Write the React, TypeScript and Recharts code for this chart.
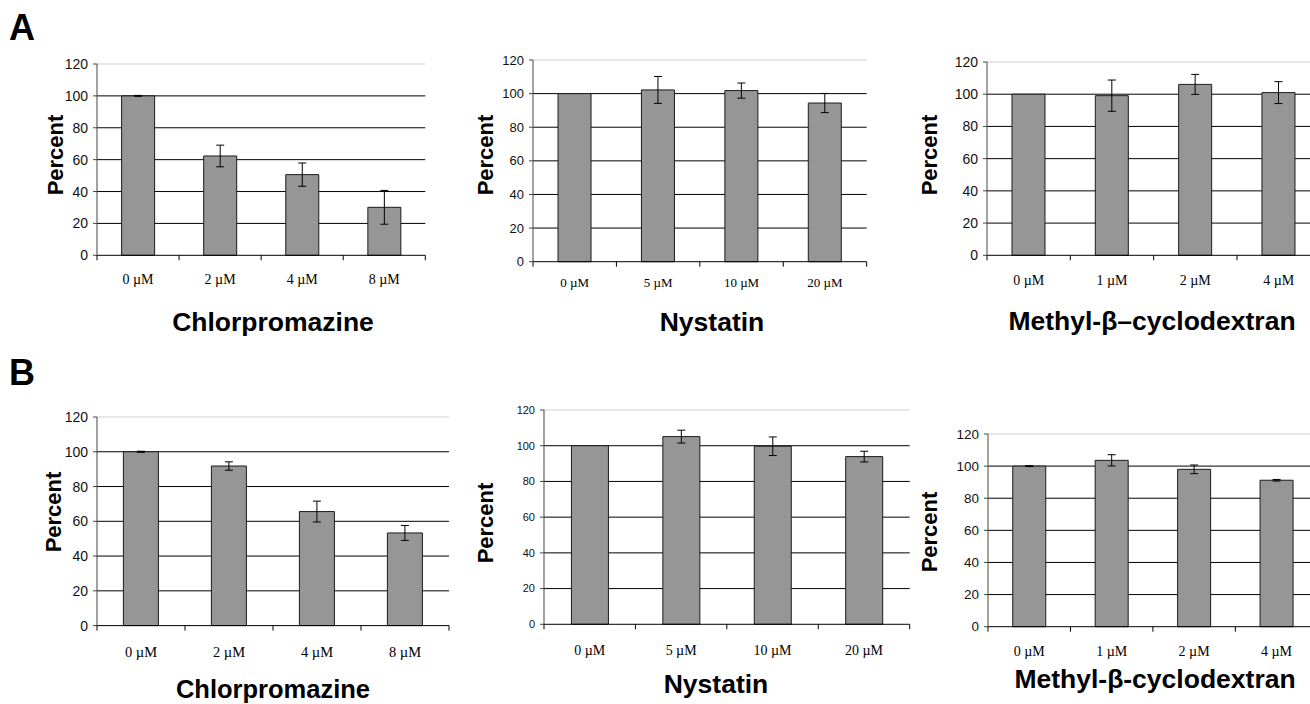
import { BarChart, Bar, XAxis, YAxis, CartesianGrid, ReferenceLine, ErrorBar } from 'recharts';

const chlorCats = ['0 µM', '2 µM', '4 µM', '8 µM'];
const nystCats = ['0 µM', '5 µM', '10 µM', '20 µM'];
const mbcdCats = ['0 µM', '1 µM', '2 µM', '4 µM'];

const yTicks = [0, 20, 40, 60, 80, 100, 120];
const gridValues = [20, 40, 60, 80, 100];

// panel A
const aChlorValues = [100, 62.3, 50.6, 30.1];
const aChlorErr = [0.3, 6.8, 7.3, 10.6];
const aNystValues = [100, 102.2, 101.8, 94.4];
const aNystErr = [0, 8, 4.5, 5.7];
const aMbcdValues = [100, 99.1, 106.1, 101];
const aMbcdErr = [0, 9.7, 6.2, 6.8];

// panel B
const bChlorValues = [100, 91.8, 65.6, 53.3];
const bChlorErr = [0.3, 2.4, 6, 4.3];
const bNystValues = [100, 105.1, 99.7, 93.9];
const bNystErr = [0, 3.6, 5.2, 3];
const bMbcdValues = [100, 103.6, 98, 91.2];
const bMbcdErr = [0.3, 3.5, 2.7, 0.5];

interface Layout {
    left: number;
    top: number;
    plotW: number;
    plotH: number;
    yFont: number;
    xFont: number;
    labelOffset: number;
}

const SANS = '"Liberation Sans", Arial, sans-serif';
const SERIF = '"Liberation Serif", "Times New Roman", serif';

const CatTick = (props: any) => {
    const { x, y, payload, index, band, font, offset, count } = props;
    const half = band / 2;
    return (
        <g>
            <line x1={x - half} y1={y} x2={x - half} y2={y + 5} stroke="#000" />
            {index === count - 1 && (
                <line x1={x + half} y1={y} x2={x + half} y2={y + 5} stroke="#000" />
            )}
            <text
                x={x}
                y={y + offset}
                textAnchor="middle"
                dominantBaseline="central"
                fontFamily={SERIF}
                fontSize={font}
                fill="#000"
            >
                {payload.value}
            </text>
        </g>
    );
};

function Panel({ cfg, cats, values, errs }: {
    cfg: Layout;
    cats: string[];
    values: number[];
    errs: number[];
}) {
    const data = cats.map((c, i) => ({ name: c, value: values[i], err: errs[i] }));
    const ml = 60;
    const mt = 10;
    const mb = 40;
    const band = cfg.plotW / cats.length;
    return (
        <div style={{ position: 'absolute', left: cfg.left - ml, top: cfg.top - mt }}>
            <BarChart
                width={cfg.plotW + ml + 2}
                height={cfg.plotH + mt + mb}
                data={data}
                margin={{ top: mt, right: 2, left: 0, bottom: 0 }}
                barCategoryGap="30%"
            >
                <CartesianGrid vertical={false} horizontalValues={gridValues} stroke="#000" />
                <ReferenceLine y={120} stroke="#d0d0d0" />
                <XAxis
                    dataKey="name"
                    height={mb}
                    interval={0}
                    tickSize={0}
                    tickMargin={0}
                    tickLine={false}
                    axisLine={{ stroke: '#000' }}
                    tick={(p: any) => (
                        <CatTick {...p} band={band} font={cfg.xFont} offset={cfg.labelOffset} count={cats.length} />
                    )}
                />
                <YAxis
                    width={ml}
                    domain={[0, 120]}
                    ticks={yTicks}
                    interval={0}
                    tickSize={4}
                    tickMargin={5}
                    axisLine={{ stroke: '#444' }}
                    tickLine={{ stroke: '#444' }}
                    tick={{ fontSize: cfg.yFont, fill: '#111', fontFamily: SANS }}
                />
                <Bar dataKey="value" fill="#969696" stroke="#1a1a1a" strokeWidth={1} isAnimationActive={false}>
                    <ErrorBar dataKey="err" direction="y" width={4} stroke="#000" strokeWidth={1} />
                </Bar>
            </BarChart>
        </div>
    );
}

const layouts: Record<string, Layout> = {
    aChlor: { left: 96.7, top: 64, plotW: 328.3, plotH: 191.3, yFont: 14, xFont: 14, labelOffset: 24 },
    aNyst: { left: 533.3, top: 60, plotW: 333.7, plotH: 201.7, yFont: 13, xFont: 13, labelOffset: 21 },
    aMbcd: { left: 986.7, top: 61.7, plotW: 333.3, plotH: 193.3, yFont: 14, xFont: 14, labelOffset: 25 },
    bChlor: { left: 96.7, top: 416.7, plotW: 352, plotH: 208.6, yFont: 14, xFont: 14.5, labelOffset: 26 },
    bNyst: { left: 544, top: 410, plotW: 365.7, plotH: 214.3, yFont: 11, xFont: 14, labelOffset: 26 },
    bMbcd: { left: 988.3, top: 434, plotW: 329.8, plotH: 192.7, yFont: 13.5, xFont: 14, labelOffset: 25 },
};

const percentLabels = [
    [55, 155], [485, 155], [929, 155],
    [53, 512], [485, 523], [929, 532],
];

const titles: Array<[string, number, number]> = [
    ['Chlorpromazine', 273, 331],
    ['Nystatin', 712, 331],
    ['Methyl-β–cyclodextran', 1152, 330],
    ['Chlorpromazine', 273, 698],
    ['Nystatin', 716, 693],
    ['Methyl-β-cyclodextran', 1155, 688],
];

export default function App() {
    return (
        <div
            style={{
                position: 'absolute',
                left: 0,
                top: 0,
                width: 1310,
                height: 704,
                overflow: 'hidden',
                background: '#fff',
            }}
        >
            <Panel cfg={layouts.aChlor} cats={chlorCats} values={aChlorValues} errs={aChlorErr} />
            <Panel cfg={layouts.aNyst} cats={nystCats} values={aNystValues} errs={aNystErr} />
            <Panel cfg={layouts.aMbcd} cats={mbcdCats} values={aMbcdValues} errs={aMbcdErr} />
            <Panel cfg={layouts.bChlor} cats={chlorCats} values={bChlorValues} errs={bChlorErr} />
            <Panel cfg={layouts.bNyst} cats={nystCats} values={bNystValues} errs={bNystErr} />
            <Panel cfg={layouts.bMbcd} cats={mbcdCats} values={bMbcdValues} errs={bMbcdErr} />

            <svg
                width={1310}
                height={704}
                style={{ position: 'absolute', left: 0, top: 0, pointerEvents: 'none' }}
                fontFamily={SANS}
                fontWeight="bold"
            >
                <text x={9} y={40} fontSize={36}>A</text>
                <text x={9} y={385} fontSize={36}>B</text>
                {percentLabels.map(([x, y], i) => (
                    <text
                        key={i}
                        x={x}
                        y={y}
                        fontSize={22}
                        textAnchor="middle"
                        dominantBaseline="central"
                        transform={`rotate(-90 ${x} ${y})`}
                    >
                        Percent
                    </text>
                ))}
                {titles.map(([t, x, y], i) => (
                    <text key={i} x={x} y={y} fontSize={i === 3 ? 25.5 : 26.5} textAnchor="middle">
                        {t}
                    </text>
                ))}
            </svg>
        </div>
    );
}
